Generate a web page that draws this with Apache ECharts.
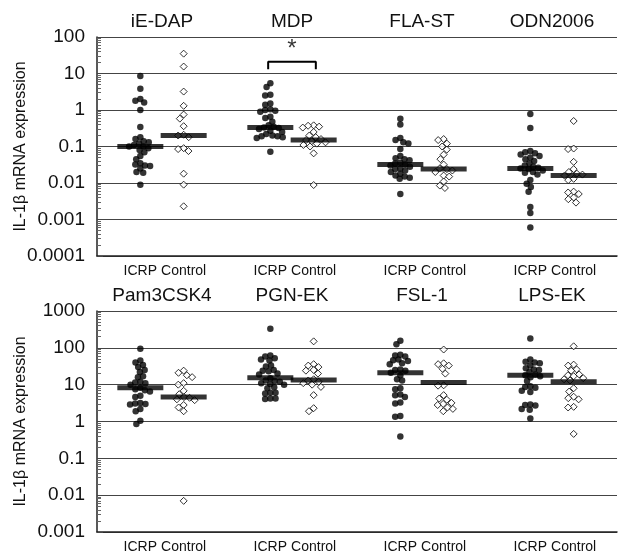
<!DOCTYPE html>
<html>
<head>
<meta charset="utf-8">
<script src="https://cdn.jsdelivr.net/npm/echarts@6/dist/echarts.min.js"></script>
<style>
  html, body { margin: 0; padding: 0; background: #fff; }
  #chart { width: 619px; height: 551px; }
</style>
</head>
<body>
<div id="chart"></div>
<script>
var topGroups = ['iE-DAP', 'MDP', 'FLA-ST', 'ODN2006'];
var bottomGroups = ['Pam3CSK4', 'PGN-EK', 'FSL-1', 'LPS-EK'];
var subLabels = ['ICRP', 'Control'];
var yName = 'IL-1β mRNA expression';

// top panel values
var iedapIcrp = [8.5, 3.8, 2.0, 1.8, 1.6, 1.0, 0.34, 0.18, 0.16, 0.14, 0.13, 0.12, 0.11, 0.1, 0.1, 0.09, 0.08, 0.07, 0.055, 0.045, 0.035, 0.032, 0.03, 0.029, 0.025, 0.02, 0.019, 0.009];
var iedapControl = [35, 15.5, 3.2, 1.3, 0.75, 0.58, 0.36, 0.21, 0.2, 0.18, 0.09, 0.085, 0.075, 0.018, 0.009, 0.0023];
var mdpIcrp = [5.4, 4.3, 2.6, 2.5, 1.5, 1.4, 1.05, 1.0, 0.95, 0.9, 0.65, 0.6, 0.48, 0.38, 0.35, 0.33, 0.32, 0.3, 0.27, 0.25, 0.22, 0.2, 0.19, 0.19, 0.18, 0.17, 0.072];
var mdpControl = [0.38, 0.37, 0.35, 0.33, 0.25, 0.2, 0.18, 0.16, 0.15, 0.14, 0.13, 0.12, 0.11, 0.1, 0.065, 0.0088];
var flastIcrp = [0.58, 0.4, 0.17, 0.15, 0.13, 0.12, 0.085, 0.055, 0.048, 0.045, 0.042, 0.036, 0.034, 0.032, 0.03, 0.028, 0.025, 0.024, 0.022, 0.02, 0.018, 0.016, 0.015, 0.014, 0.013, 0.005];
var flastControl = [0.16, 0.15, 0.12, 0.1, 0.082, 0.06, 0.045, 0.032, 0.025, 0.024, 0.022, 0.02, 0.016, 0.015, 0.011, 0.0085, 0.0073];
var odnIcrp = [0.78, 0.32, 0.075, 0.07, 0.065, 0.06, 0.055, 0.05, 0.045, 0.04, 0.035, 0.03, 0.028, 0.026, 0.025, 0.024, 0.022, 0.02, 0.019, 0.017, 0.012, 0.0095, 0.0078, 0.0058, 0.0022, 0.0015, 0.0006];
var odnControl = [0.5, 0.088, 0.085, 0.038, 0.024, 0.02, 0.018, 0.017, 0.016, 0.013, 0.012, 0.0058, 0.0055, 0.005, 0.004, 0.0036, 0.0029];

// bottom panel values
var pamIcrp = [95, 45, 40, 34, 30, 25, 22, 17, 16, 12, 11.5, 11, 10, 8.2, 7.5, 7, 6.5, 5, 4.6, 3.2, 3.1, 3.0, 2.9, 2.2, 1.9, 1.05, 0.85];
var pamControl = [24, 21, 18, 16, 11, 10, 6.8, 5.5, 4.6, 4.4, 4, 3.8, 2.8, 2.4, 1.9, 0.007];
var pgnIcrp = [330, 62, 58, 52, 48, 45, 33, 31, 25, 24, 23, 20, 19, 15, 13, 12.5, 12, 11, 10.5, 10, 8.5, 8, 6, 6, 5.8, 4.2, 4.2, 4.1];
var pgnControl = [150, 36, 33, 30, 25, 24, 20, 14, 13, 12, 11, 10, 8.7, 5.2, 2.3, 1.9];
var fslIcrp = [155, 125, 65, 62, 58, 48, 46, 44, 38, 36, 26, 25, 24, 21, 18, 14, 13, 8, 7.5, 5.4, 5.2, 4.6, 3.3, 3.1, 1.4, 1.35, 0.39];
var fslControl = [90, 38, 36, 33, 27, 20, 9.6, 9.4, 5.2, 4.2, 3.9, 3.2, 3.0, 2.8, 2.4, 2.2, 1.9];
var lpsIcrp = [180, 48, 42, 40, 38, 33, 28, 26, 25, 22, 19, 18, 17, 16, 12.5, 9, 8.7, 8.3, 6.8, 6.3, 2.9, 2.8, 2.7, 2.2, 2.1, 1.2];
var lpsControl = [110, 35, 33, 26, 24, 19, 18, 17, 15, 14, 13, 8, 6.5, 4.7, 4.3, 4, 2.5, 2.4, 0.46];

// medians (horizontal bars)
var topMedianIcrp = [0.1, 0.33, 0.032, 0.025];
var topMedianControl = [0.2, 0.15, 0.024, 0.016];
var bottomMedianIcrp = [8.3, 15.5, 21, 18];
var bottomMedianControl = [4.6, 13.4, 11.5, 12];

// significance bracket over MDP
var bracket = [[3.95, 13], [3.95, 21], [5.05, 21], [5.05, 13]];
var star = [[4.5, 21]];

var topIcrp = [iedapIcrp, mdpIcrp, flastIcrp, odnIcrp];
var topControl = [iedapControl, mdpControl, flastControl, odnControl];
var bottomIcrp = [pamIcrp, pgnIcrp, fslIcrp, lpsIcrp];
var bottomControl = [pamControl, pgnControl, fslControl, lpsControl];

var FONT = 'Liberation Sans, Arial, sans-serif';
var chart = echarts.init(document.getElementById('chart'));

function flat(groups, pos) {
  var out = [];
  groups.forEach(function (vals, i) {
    vals.forEach(function (v) { out.push([3 * i + pos, v]); });
  });
  return out;
}
function medianData(meds, pos) {
  return meds.map(function (v, i) { return [3 * i + pos, v]; });
}

function yAxisCfg(idx, min, max) {
  return {
    type: 'log', logBase: 10, gridIndex: idx, min: min, max: max, splitNumber: 6,
    name: yName, nameLocation: 'middle', nameGap: 68, nameRotate: 90, nameMoveOverlap: false,
    nameTextStyle: { fontFamily: FONT, fontSize: 16, color: '#111' },
    axisLine: { show: true, lineStyle: { color: '#222', width: 1.5 } },
    axisTick: { show: true, inside: true, length: 6, lineStyle: { color: '#444' } },
    minorTick: { show: true, splitNumber: 9, length: 4, lineStyle: { color: '#666' } },
    splitLine: { show: true, lineStyle: { color: '#444', width: 1.2 } },
    axisLabel: {
      fontFamily: FONT, fontSize: 19, color: '#111', margin: 12,
      formatter: function (v) { return String(+v.toPrecision(1)); }
    }
  };
}
function xBottom(idx) {
  return {
    type: 'value', gridIndex: idx, min: 0, max: 12, interval: 1, position: 'bottom',
    axisLine: { show: true, onZero: false, lineStyle: { color: '#222', width: 1.5 } },
    axisTick: { show: false }, splitLine: { show: false },
    axisLabel: {
      fontFamily: FONT, fontSize: 14, color: '#111', margin: 8,
      formatter: function (v) {
        var r = Math.round(v) % 3;
        return r === 1 ? subLabels[0] : r === 2 ? subLabels[1] : '';
      }
    }
  };
}
function xTop(idx, names) {
  return {
    type: 'value', gridIndex: idx, min: 0, max: 12, interval: 1.5, position: 'top',
    axisLine: { show: false }, axisTick: { show: false }, splitLine: { show: false },
    axisLabel: {
      fontFamily: FONT, fontSize: 19, color: '#111', margin: 6,
      formatter: function (v) {
        var k = (v - 1.5) / 3;
        return Math.abs(k - Math.round(k)) < 1e-6 ? (names[Math.round(k)] || '') : '';
      }
    }
  };
}

function panelSeries(p, icrp, control, medI, medC) {
  return [
    {
      id: 'icrp' + p, type: 'scatter', xAxisIndex: p * 2, yAxisIndex: p,
      symbol: 'circle', symbolSize: 6.5, itemStyle: { color: '#000' },
      data: flat(icrp, 1), z: 3
    },
    {
      id: 'control' + p, type: 'scatter', xAxisIndex: p * 2, yAxisIndex: p,
      symbol: 'diamond', symbolSize: 7,
      itemStyle: { color: '#fff', borderColor: '#000', borderWidth: 1 },
      data: flat(control, 2), z: 3
    },
    {
      id: 'median' + p, type: 'scatter', xAxisIndex: p * 2, yAxisIndex: p,
      symbol: 'rect', symbolSize: [46, 5], itemStyle: { color: '#000' },
      data: medianData(medI, 1).concat(medianData(medC, 2)), z: 4
    }
  ];
}

var series = panelSeries(0, topIcrp, topControl, topMedianIcrp, topMedianControl)
  .concat(panelSeries(1, bottomIcrp, bottomControl, bottomMedianIcrp, bottomMedianControl));
series.push({
  id: 'bracket', type: 'line', xAxisIndex: 0, yAxisIndex: 0, data: bracket,
  symbol: 'none', lineStyle: { color: '#000', width: 2 }, z: 5, silent: true
});
series.push({
  id: 'star', type: 'scatter', xAxisIndex: 0, yAxisIndex: 0, data: star,
  symbolSize: 0,
  label: { show: true, position: 'top', distance: 0, formatter: '*', fontFamily: FONT, fontSize: 24, color: '#000' }
});

chart.setOption({
  animation: false,
  backgroundColor: '#fff',
  grid: [
    { left: 97, right: 2, top: 37, height: 219, outerBoundsMode: 'none' },
    { left: 97, right: 2, top: 311, height: 221, outerBoundsMode: 'none' }
  ],
  xAxis: [xBottom(0), xTop(0, topGroups), xBottom(1), xTop(1, bottomGroups)],
  yAxis: [yAxisCfg(0, 0.0001, 100), yAxisCfg(1, 0.001, 1000)],
  series: series
});

// beeswarm layout: spread points sideways so they do not overlap too much
function swarm(vals, center, g, diam) {
  var p0 = chart.convertToPixel({ gridIndex: g }, [0, 1]);
  var p1 = chart.convertToPixel({ gridIndex: g }, [1, 1]);
  var unit = p1[0] - p0[0];
  var pts = vals.map(function (v, i) {
    return { i: i, v: v, y: chart.convertToPixel({ gridIndex: g }, [center, v])[1] };
  });
  pts.sort(function (a, b) { return a.y - b.y; });
  var placed = [];
  pts.forEach(function (p) {
    var cands = [0], blocks = [];
    placed.forEach(function (q) {
      var dy = Math.abs(q.y - p.y);
      if (dy < diam) {
        var w = Math.sqrt(diam * diam - dy * dy);
        blocks.push([q.x - w, q.x + w]);
        cands.push(q.x - w, q.x + w);
      }
    });
    cands.sort(function (a, b) { return Math.abs(a) - Math.abs(b); });
    for (var k = 0; k < cands.length; k++) {
      var c = cands[k];
      var ok = blocks.every(function (b) { return c <= b[0] + 1e-6 || c >= b[1] - 1e-6; });
      if (ok) { p.x = c; break; }
    }
    placed.push(p);
  });
  var out = [];
  pts.forEach(function (p) { out[p.i] = [center + p.x / unit, p.v]; });
  return out;
}
function swarmPanel(groups, pos, g, diam) {
  var out = [];
  groups.forEach(function (vals, i) { out = out.concat(swarm(vals, 3 * i + pos, g, diam)); });
  return out;
}

chart.setOption({
  series: [
    { id: 'icrp0', data: swarmPanel(topIcrp, 1, 0, 5.2) },
    { id: 'control0', data: swarmPanel(topControl, 2, 0, 5.6) },
    { id: 'icrp1', data: swarmPanel(bottomIcrp, 1, 1, 5.2) },
    { id: 'control1', data: swarmPanel(bottomControl, 2, 1, 5.6) }
  ]
});
</script>
</body>
</html>
